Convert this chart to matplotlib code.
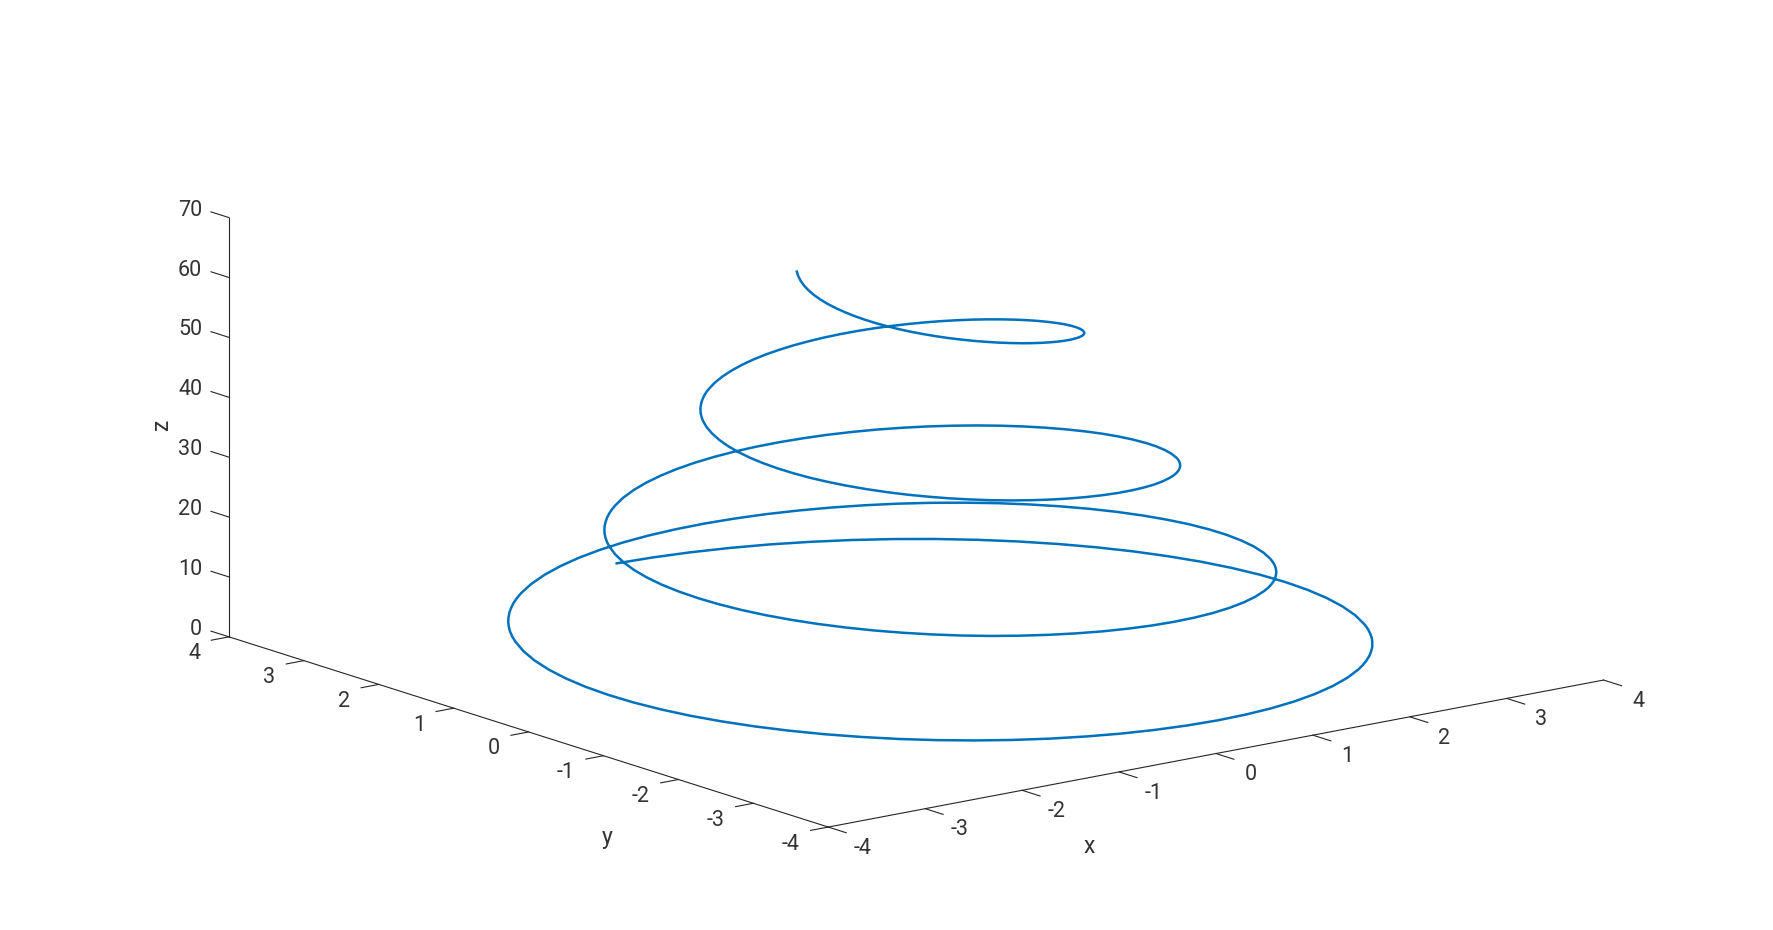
import numpy as np
import matplotlib
matplotlib.use('Agg')
import matplotlib.pyplot as plt
from mpl_toolkits.mplot3d import proj3d

# spiral: parameter angle (deg), radius and height, one row per turn.
# sampled closer together where the loops turn round on screen
angle_deg = [
    0, 5, 10, 15, 20, 25, 30, 35, 40, 45, 50, 55, 60, 65, 70, 75, 80, 85, 90, 95, 100,
    105, 110, 115, 117.5, 120, 122.5, 125, 127.5, 130, 132.5, 135, 137.5, 140, 145, 150, 155, 160,
    165, 170, 175, 180, 185, 190, 195, 200, 205, 210, 215, 220, 225, 230, 235, 240, 245, 250,
    255, 260, 265, 270, 275, 280, 285, 290, 295, 297.5, 300, 302.5, 305, 307.5, 310, 312.5,
    315, 317.5, 320, 325, 330, 335, 340, 345, 350, 355,
    360, 365, 370, 375, 380, 385, 390, 395, 400, 405, 410, 415, 420, 425, 430, 435, 440, 445,
    450, 455, 460, 465, 470, 475, 477.5, 480, 482.5, 485, 487.5, 490, 492.5, 495, 497.5, 500,
    505, 510, 515, 520, 525, 530, 535, 540, 545, 550, 555, 560, 565, 570, 575, 580, 585, 590,
    595, 600, 605, 610, 615, 620, 625, 630, 635, 640, 645, 650, 655, 657.5, 660, 662.5, 665,
    667.5, 670, 672.5, 675, 677.5, 680, 685, 690, 695, 700, 705, 710, 715,
    720, 725, 730, 735, 740, 745, 750, 755, 760, 765, 770, 775, 780, 785, 790, 795, 800, 805,
    810, 815, 820, 825, 830, 835, 837.5, 840, 842.5, 845, 847.5, 850, 852.5, 855, 857.5, 860,
    865, 870, 875, 880, 885, 890, 895, 900, 905, 910, 915, 920, 925, 930, 935, 940, 945, 950,
    955, 960, 965, 970, 975, 980, 985, 990, 995, 1000, 1005, 1010, 1015, 1017.5, 1020, 1022.5,
    1025, 1027.5, 1030, 1032.5, 1035, 1037.5, 1040, 1045, 1050, 1055, 1060, 1065, 1070, 1075,
    1080, 1085, 1090, 1095, 1100, 1105, 1110, 1115, 1120, 1125, 1130, 1135, 1140, 1145, 1150,
    1155, 1160, 1165, 1170, 1175, 1180, 1185, 1190, 1195, 1197.5, 1200, 1202.5, 1205, 1207.5,
    1210, 1212.5, 1215, 1217.5, 1220, 1225, 1230, 1235, 1240, 1245, 1250, 1255, 1260, 1265,
    1270, 1275, 1280, 1285, 1290, 1295, 1300, 1305, 1310, 1315, 1320, 1325, 1330, 1335, 1340,
    1345, 1350, 1355, 1360, 1365, 1370, 1375,
]
radius = [
    4.000, 3.989, 3.978, 3.967, 3.956, 3.945, 3.935, 3.924, 3.913, 3.902, 3.891, 3.880, 3.869,
    3.858, 3.847, 3.836, 3.825, 3.815, 3.804, 3.793, 3.782,
    3.771, 3.760, 3.749, 3.744, 3.738, 3.733, 3.727, 3.722, 3.716, 3.711, 3.705, 3.700, 3.695,
    3.684, 3.673, 3.662, 3.651,
    3.640, 3.629, 3.618, 3.607, 3.596, 3.585, 3.575, 3.564, 3.553, 3.542, 3.531, 3.520, 3.509,
    3.498, 3.487, 3.476, 3.465, 3.455, 3.444, 3.433, 3.422, 3.411, 3.400, 3.389,
    3.378, 3.367, 3.356, 3.351, 3.346, 3.340, 3.335, 3.329, 3.324, 3.318, 3.313, 3.307, 3.302,
    3.291, 3.280, 3.269, 3.258, 3.247, 3.236, 3.226,
    3.215, 3.204, 3.193, 3.182, 3.171, 3.160, 3.149, 3.138, 3.127, 3.116, 3.106, 3.095, 3.084,
    3.073, 3.062, 3.051, 3.040, 3.029, 3.018, 3.007, 2.996,
    2.986, 2.975, 2.964, 2.958, 2.953, 2.947, 2.942, 2.936, 2.931, 2.926, 2.920, 2.915, 2.909,
    2.898, 2.887, 2.876, 2.866,
    2.855, 2.844, 2.833, 2.822, 2.811, 2.800, 2.789, 2.778, 2.767, 2.756, 2.746, 2.735, 2.724,
    2.713, 2.702, 2.691, 2.680, 2.669, 2.658, 2.647, 2.636, 2.626, 2.615, 2.604,
    2.593, 2.582, 2.571, 2.566, 2.560, 2.555, 2.549, 2.544, 2.538, 2.533, 2.527, 2.522, 2.516,
    2.506, 2.495, 2.484, 2.473, 2.462, 2.451, 2.440,
    2.429, 2.418, 2.407, 2.396, 2.386, 2.375, 2.364, 2.353, 2.342, 2.331, 2.320, 2.309, 2.298,
    2.287, 2.276, 2.266, 2.255, 2.244, 2.233, 2.222, 2.211,
    2.200, 2.189, 2.178, 2.173, 2.167, 2.162, 2.156, 2.151, 2.146, 2.140, 2.135, 2.129, 2.124,
    2.113, 2.102, 2.091, 2.080,
    2.069, 2.058, 2.047, 2.037, 2.026, 2.015, 2.004, 1.993, 1.982, 1.971, 1.960, 1.949, 1.938,
    1.927, 1.917, 1.906, 1.895, 1.884, 1.873, 1.862, 1.851, 1.840, 1.829, 1.818,
    1.807, 1.797, 1.786, 1.780, 1.775, 1.769, 1.764, 1.758, 1.753, 1.747, 1.742, 1.737, 1.731,
    1.720, 1.709, 1.698, 1.687, 1.677, 1.666, 1.655,
    1.644, 1.633, 1.622, 1.611, 1.600, 1.589, 1.578, 1.567, 1.557, 1.546, 1.535, 1.524, 1.513,
    1.502, 1.491, 1.480, 1.469, 1.458, 1.447, 1.437, 1.426,
    1.415, 1.404, 1.393, 1.387, 1.382, 1.377, 1.371, 1.366, 1.360, 1.355, 1.349, 1.344, 1.338,
    1.327, 1.317, 1.306, 1.295,
    1.284, 1.273, 1.262, 1.251, 1.240, 1.229, 1.218, 1.207, 1.197, 1.186, 1.175, 1.164, 1.153,
    1.142, 1.131, 1.120, 1.109, 1.098, 1.087, 1.077, 1.066, 1.055, 1.044, 1.033,
    1.022, 1.011, 1.000,
]
height = [
    0.00, 0.01, 0.04, 0.07, 0.12, 0.16, 0.21, 0.27, 0.33, 0.39, 0.46, 0.53, 0.60, 0.68, 0.75,
    0.84, 0.92, 1.01, 1.10, 1.19, 1.29,
    1.39, 1.49, 1.59, 1.64, 1.69, 1.75, 1.80, 1.86, 1.91, 1.97, 2.02, 2.08, 2.13,
    2.25, 2.37, 2.49, 2.61,
    2.73, 2.86, 2.98, 3.11, 3.24, 3.37, 3.51, 3.64, 3.78, 3.92, 4.06, 4.20, 4.35, 4.49, 4.64,
    4.79, 4.94, 5.09, 5.25, 5.40, 5.56, 5.72, 5.88, 6.04,
    6.20, 6.36, 6.53, 6.61, 6.70, 6.78, 6.86, 6.95, 7.03, 7.12, 7.20, 7.29, 7.38,
    7.55, 7.72, 7.90, 8.08, 8.26, 8.44, 8.62,
    8.80, 8.99, 9.17, 9.36, 9.54, 9.73, 9.92, 10.12, 10.31, 10.50, 10.70, 10.89, 11.09, 11.29,
    11.49, 11.69, 11.89, 12.10, 12.30, 12.51, 12.71,
    12.92, 13.13, 13.34, 13.44, 13.55, 13.66, 13.76, 13.87, 13.98, 14.08, 14.19, 14.30, 14.41,
    14.62, 14.84, 15.06, 15.28,
    15.50, 15.72, 15.94, 16.17, 16.39, 16.62, 16.85, 17.08, 17.30, 17.53, 17.77, 18.00, 18.23,
    18.47, 18.70, 18.94, 19.17, 19.41, 19.65, 19.89, 20.13, 20.37, 20.62, 20.86,
    21.11, 21.35, 21.60, 21.72, 21.85, 21.97, 22.10, 22.22, 22.35, 22.47, 22.60, 22.72, 22.85,
    23.10, 23.35, 23.61, 23.86, 24.12, 24.38, 24.63,
    24.89, 25.15, 25.41, 25.67, 25.94, 26.20, 26.47, 26.73, 27.00, 27.26, 27.53, 27.80, 28.07,
    28.34, 28.61, 28.88, 29.16, 29.43, 29.70, 29.98, 30.26,
    30.53, 30.81, 31.09, 31.23, 31.37, 31.51, 31.65, 31.79, 31.93, 32.07, 32.21, 32.35, 32.50,
    32.78, 33.06, 33.35, 33.64,
    33.92, 34.21, 34.50, 34.79, 35.08, 35.37, 35.66, 35.95, 36.25, 36.54, 36.84, 37.13, 37.43,
    37.73, 38.03, 38.33, 38.62, 38.93, 39.23, 39.53, 39.83, 40.14, 40.44, 40.75,
    41.05, 41.36, 41.67, 41.82, 41.97, 42.13, 42.28, 42.44, 42.59, 42.75, 42.90, 43.06, 43.21,
    43.53, 43.84, 44.15, 44.47, 44.78, 45.10, 45.41,
    45.73, 46.05, 46.37, 46.69, 47.01, 47.33, 47.65, 47.97, 48.29, 48.62, 48.94, 49.27, 49.59,
    49.92, 50.25, 50.58, 50.91, 51.24, 51.57, 51.90, 52.23,
    52.56, 52.89, 53.23, 53.39, 53.56, 53.73, 53.90, 54.06, 54.23, 54.40, 54.57, 54.74, 54.91,
    55.24, 55.58, 55.92, 56.26,
    56.60, 56.94, 57.28, 57.63, 57.97, 58.32, 58.66, 59.01, 59.35, 59.70, 60.05, 60.39, 60.74,
    61.09, 61.44, 61.79, 62.14, 62.50, 62.85, 63.20, 63.56, 63.91, 64.27, 64.62,
    64.98, 65.34, 65.69,
]

x_ticks = [-4, -3, -2, -1, 0, 1, 2, 3, 4]
y_ticks = [-4, -3, -2, -1, 0, 1, 2, 3, 4]
z_ticks = [0, 10, 20, 30, 40, 50, 60, 70]
x_ticklabels = ['-4', '-3', '-2', '-1', '0', '1', '2', '3', '4']
y_ticklabels = ['-4', '-3', '-2', '-1', '0', '1', '2', '3', '4']
z_ticklabels = ['0', '10', '20', '30', '40', '50', '60', '70']

assert len(angle_deg) == len(radius) == len(height)

plt.rcParams['font.family'] = ['Roboto', 'DejaVu Sans']
plt.rcParams['axes.unicode_minus'] = False

ink = '#262626'
text_ink = '#333333'
blue = '#0072BD'
fs = 15.5

t = np.deg2rad(angle_deg)
r = np.array(radius)
xs = r * np.sin(t)
ys = r * np.cos(t)
zs = np.array(height)

W, H = 1773, 930
fig = plt.figure(figsize=(W / 100, H / 100), dpi=100)
ax = fig.add_axes([0, 0, 1, 1], projection='3d', proj_type='ortho')
ax.view_init(elev=14.2, azim=-127.7)
ax.set_box_aspect((1, 1, 0.4413))
ax.set_facecolor('none')

ax.plot(xs, ys, zs, color=blue, lw=1.8)

ax.set_xlim(-4, 4, view_margin=0)
ax.set_ylim(-4, 4, view_margin=0)
ax.set_zlim(0, 70, view_margin=0)
ax.set_xticks(x_ticks)
ax.set_yticks(y_ticks)
ax.set_zticks(z_ticks)

ax.grid(False)
for axis in (ax.xaxis, ax.yaxis, ax.zaxis):
    axis.set_pane_color((1, 1, 1, 0))
    axis.pane.set_edgecolor((1, 1, 1, 0))
    axis.line.set_color(ink)
    axis.line.set_linewidth(0.8)
    axis.label.set_visible(False)
    axis.offsetText.set_visible(False)
    axis.set_tick_params(labelbottom=False, labeltop=False, color=ink)
    axis._axinfo['tick']['linewidth'] = {True: 0.8, False: 0.5}
    axis._axinfo['tick']['color'] = ink
# matlab ticks stick out of the box only
ax.xaxis._axinfo['tick']['inward_factor'] = 0.375
ax.xaxis._axinfo['tick']['outward_factor'] = 0.0
ax.yaxis._axinfo['tick']['inward_factor'] = 0.285
ax.yaxis._axinfo['tick']['outward_factor'] = 0.0
ax.zaxis._axinfo['tick']['inward_factor'] = 0.0
ax.zaxis._axinfo['tick']['outward_factor'] = 0.375
ax.zaxis._get_tickdir = lambda *args, **kwargs: 1

# fit the projected box onto the reference frame (front, right and top corners)
fig.canvas.draw()


def to_screen(x, y, z):
    px, py, _ = proj3d.proj_transform(np.asarray(x, float), np.asarray(y, float),
                                      np.asarray(z, float), ax.get_proj())
    return ax.transData.transform(np.column_stack([px, py]))


now = to_screen([-4, 4, -4], [-4, -4, 4], [0, 0, 70])
target = np.array([[828.3, H - 827.3], [1603.3, H - 680.7], [229.3, H - 216.7]])
nm, tm = now.mean(axis=0), target.mean(axis=0)
s = ((now - nm) * (target - tm)).sum() / ((now - nm) ** 2).sum()
c = tm - s * nm
pos = ax.get_position()
x0, y0 = s * pos.x0 * W + c[0], s * pos.y0 * H + c[1]
ax.set_position([x0 / W, y0 / H, s * pos.width, s * pos.height])
fig.canvas.draw()


def label(x, y, z, s, **kw):
    (px, py), = to_screen([x], [y], [z])
    fig.text(px / W, py / H, s, color=text_ink, **kw)


# tick labels, projected to the page
for v, lab in zip(x_ticks, x_ticklabels):
    label(v, -4.46, -1.72, lab, fontsize=fs, ha='center', va='center')
for v, lab in zip(y_ticks, y_ticklabels):
    label(-4.294, v, -1.94, lab, fontsize=fs, ha='right', va='center')
for v, lab in zip(z_ticks, z_ticklabels):
    label(-4, 4.357, v - 0.18, lab, fontsize=fs, ha='right', va='center')

# axis names, placed where matlab puts them
label(-2.71, -5.82, 0, 'x', fontsize=16.5, ha='center', va='center')
label(-5.63, -3.16, 0, 'y', fontsize=16.5, ha='center', va='center')
label(-4, 4.9, 31.8, 'z', fontsize=16.5, ha='center', va='center', rotation=90)

fig.savefig('out.png', dpi=100, facecolor='white')
